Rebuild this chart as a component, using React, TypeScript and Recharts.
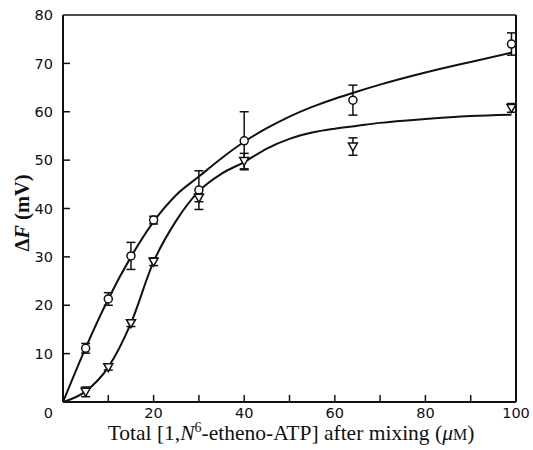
import React from "react";
import {
  ComposedChart, Line, Scatter, XAxis, YAxis, ErrorBar, ReferenceLine, Label,
} from "recharts";

// axis ticks
const xTicks = [0, 10, 20, 30, 40, 50, 60, 70, 80, 90, 100];
const yTicks = [0, 10, 20, 30, 40, 50, 60, 70, 80];

// open circles
const circleX = [5, 10, 15, 20, 30, 40, 64, 99];
const circleY = [11.1, 21.3, 30.2, 37.6, 43.8, 54.0, 62.4, 74.0];
const circleErr = [1.0, 1.3, 2.8, 0.8, 4.0, 6.0, 3.1, 2.3];

// open down-triangles
const triX = [5, 10, 15, 20, 30, 40, 64, 99];
const triY = [2.1, 7.2, 16.3, 29.0, 42.2, 49.8, 52.8, 60.8];
const triErr = [1.0, 0.6, 0.7, 0.8, 0.8, 1.6, 1.8, 0.9];

// fitted curves
const curveX = [0, 5, 10, 15, 20, 25, 30, 35, 40, 45, 50, 55, 60, 65, 70, 80, 90, 99];
const upperCurve = [0, 11.2, 21.3, 30.0, 37.3, 42.8, 46.6, 50.4, 53.8, 56.6, 59.0, 61.0, 62.7, 64.2, 65.6, 68.1, 70.3, 72.2];
const lowerCurve = [0, 2.2, 7.2, 16.3, 29.0, 37.5, 43.6, 47.2, 49.6, 52.4, 54.4, 55.7, 56.5, 57.1, 57.7, 58.5, 59.1, 59.4];

const circles = circleX.map((x, i) => ({ x, y: circleY[i], err: circleErr[i] }));
const triangles = triX.map((x, i) => ({ x, y: triY[i], err: triErr[i] }));
const upper = curveX.map((x, i) => ({ x, y: upperCurve[i] }));
const lower = curveX.map((x, i) => ({ x, y: lowerCurve[i] }));

const INK = "#111";
const tickFont = { fontFamily: "'DejaVu Sans', sans-serif", fontSize: 14.5, fill: INK };

const OpenCircle = (p: any) => (
  <circle cx={p.cx} cy={p.cy} r={4} fill="#fff" stroke={INK} strokeWidth={1.5} />
);

const OpenTriangle = (p: any) => {
  const { cx, cy } = p;
  return (
    <path
      d={`M${cx - 4.5},${cy - 3.5} L${cx + 4.5},${cy - 3.5} L${cx},${cy + 4.5} Z`}
      fill="#fff"
      stroke={INK}
      strokeWidth={1.5}
    />
  );
};

const YTick = ({ x, y, payload }: any) => {
  const v = payload.value;
  return (
    <g>
      {v > 0 && v < 80 && <line x1={x + 10} x2={x + 17} y1={y} y2={y} stroke={INK} strokeWidth={1.5} />}
      <text x={x} y={v === 0 ? y + 11 : y} dy="0.36em" textAnchor="end" {...tickFont}>{v}</text>
    </g>
  );
};

const XTick = ({ x, y, payload }: any) => {
  const v = payload.value;
  return (
    <g>
      {v > 0 && v < 100 && <line x1={x} x2={x} y1={y} y2={y - 7} stroke={INK} strokeWidth={1.5} />}
      {v > 0 && v % 20 === 0 && (
        <text x={x} y={y + 16} textAnchor="middle" {...tickFont}>{v}</text>
      )}
    </g>
  );
};

const XTitle = () => (
  <text x={291} y={440} textAnchor="middle" fontFamily="'Liberation Serif', 'Times New Roman', serif" fontSize={21.5} fill={INK}>
    Total [1,<tspan fontStyle="italic">N</tspan>
    <tspan dy={-8} fontSize={14}>6</tspan>
    <tspan dy={8}>-etheno-ATP] after mixing (</tspan>
    <tspan fontStyle="italic">μ</tspan>
    <tspan fontSize={16}>M</tspan>)
  </text>
);

const YTitle = () => (
  <text
    x={0}
    y={0}
    transform="translate(29,213) rotate(-90)"
    textAnchor="middle"
    fontFamily="'Liberation Serif', 'Times New Roman', serif"
    fontWeight="bold"
    fontSize={20.5}
    fill={INK}
  >
    Δ<tspan fontStyle="italic">F</tspan> (mV)
  </text>
);

export default function App() {
  return (
    <div style={{ position: "absolute", left: 0, top: 0, width: 533, height: 450, background: "#fff" }}>
      <ComposedChart width={533} height={450} margin={{ top: 15, right: 17, bottom: 0, left: 0 }}>
        <XAxis
          type="number"
          dataKey="x"
          domain={[0, 100]}
          ticks={xTicks}
          interval={0}
          height={48}
          tickSize={0}
          tickMargin={0}
          tickLine={false}
          tick={<XTick />}
          axisLine={{ stroke: INK, strokeWidth: 2 }}
        >
          <Label content={<XTitle />} />
        </XAxis>
        <YAxis
          type="number"
          dataKey="y"
          domain={[0, 80]}
          ticks={yTicks}
          interval={0}
          width={63}
          tickSize={0}
          tickMargin={10}
          tickLine={false}
          tick={<YTick />}
          axisLine={{ stroke: INK, strokeWidth: 2 }}
        >
          <Label content={<YTitle />} />
        </YAxis>
        <ReferenceLine y={80} stroke={INK} strokeWidth={1.5} />
        <ReferenceLine x={100} stroke={INK} strokeWidth={2} />
        <Line data={upper} dataKey="y" type="monotone" stroke={INK} strokeWidth={2} dot={false} isAnimationActive={false} />
        <Line data={lower} dataKey="y" type="monotone" stroke={INK} strokeWidth={2} dot={false} isAnimationActive={false} />
        <Scatter data={circles} dataKey="y" shape={<OpenCircle />} isAnimationActive={false}>
          <ErrorBar dataKey="err" direction="y" width={4.5} stroke={INK} strokeWidth={1.5} isAnimationActive={false} />
        </Scatter>
        <Scatter data={triangles} dataKey="y" shape={<OpenTriangle />} isAnimationActive={false}>
          <ErrorBar dataKey="err" direction="y" width={4.5} stroke={INK} strokeWidth={1.5} isAnimationActive={false} />
        </Scatter>
      </ComposedChart>
    </div>
  );
}
